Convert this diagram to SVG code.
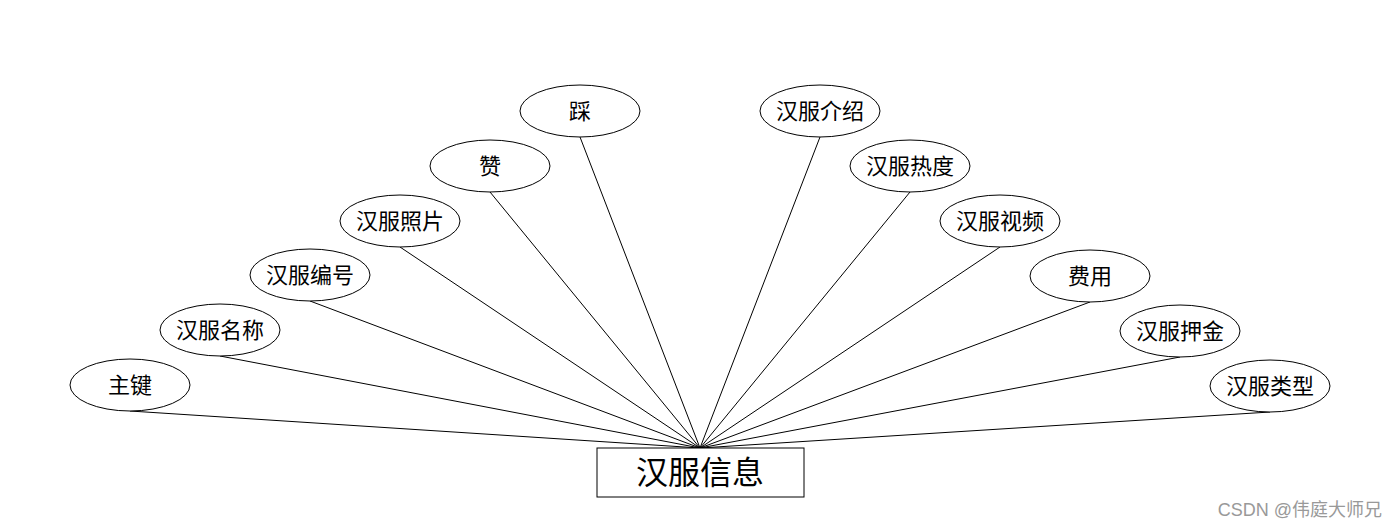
<svg xmlns="http://www.w3.org/2000/svg" width="1400" height="528" viewBox="0 0 1400 528">
<style>
.e{fill:#fff;stroke:#000;stroke-width:1}
.t{font-family:"Noto Sans CJK SC","Liberation Sans",sans-serif;font-size:22px;fill:#000;text-anchor:middle;dominant-baseline:central}
.c line{stroke:#000;stroke-width:1}
</style>
<rect width="1400" height="528" fill="#fff"/>
<g class="c" id="connectors">
<line x1="130" y1="411" x2="700" y2="448"/>
<line x1="220" y1="356" x2="700" y2="448"/>
<line x1="310" y1="301" x2="700" y2="448"/>
<line x1="400" y1="247" x2="700" y2="448"/>
<line x1="490" y1="192" x2="700" y2="448"/>
<line x1="580" y1="137" x2="700" y2="448"/>
<line x1="820" y1="137" x2="700" y2="448"/>
<line x1="910" y1="192" x2="700" y2="448"/>
<line x1="1000" y1="247" x2="700" y2="448"/>
<line x1="1090" y1="302" x2="700" y2="448"/>
<line x1="1180" y1="357" x2="700" y2="448"/>
<line x1="1270" y1="412" x2="700" y2="448"/>
</g>
<g id="n0"><ellipse class="e" cx="130" cy="385" rx="60" ry="26"/><text class="t" x="130" y="383">主键</text></g>
<g id="n1"><ellipse class="e" cx="220" cy="330" rx="60" ry="26"/><text class="t" x="220" y="328">汉服名称</text></g>
<g id="n2"><ellipse class="e" cx="310" cy="275" rx="60" ry="26"/><text class="t" x="310" y="273">汉服编号</text></g>
<g id="n3"><ellipse class="e" cx="400" cy="221" rx="60" ry="26"/><text class="t" x="400" y="219">汉服照片</text></g>
<g id="n4"><ellipse class="e" cx="490" cy="166" rx="60" ry="26"/><text class="t" x="490" y="164">赞</text></g>
<g id="n5"><ellipse class="e" cx="580" cy="111" rx="60" ry="26"/><text class="t" x="580" y="109">踩</text></g>
<g id="n6"><ellipse class="e" cx="820" cy="111" rx="60" ry="26"/><text class="t" x="820" y="109">汉服介绍</text></g>
<g id="n7"><ellipse class="e" cx="910" cy="166" rx="60" ry="26"/><text class="t" x="910" y="164">汉服热度</text></g>
<g id="n8"><ellipse class="e" cx="1000" cy="221" rx="60" ry="26"/><text class="t" x="1000" y="219">汉服视频</text></g>
<g id="n9"><ellipse class="e" cx="1090" cy="276" rx="60" ry="26"/><text class="t" x="1090" y="274">费用</text></g>
<g id="n10"><ellipse class="e" cx="1180" cy="331" rx="60" ry="26"/><text class="t" x="1180" y="329">汉服押金</text></g>
<g id="n11"><ellipse class="e" cx="1270" cy="386" rx="60" ry="26"/><text class="t" x="1270" y="384">汉服类型</text></g>
<g id="main"><rect x="597" y="448" width="207" height="49" fill="#fff" stroke="#000" stroke-width="1"/><text class="t" x="700" y="470" style="font-size:32px">汉服信息</text></g>
<text x="1382" y="516" style="font-family:'Liberation Sans','Noto Sans CJK SC',sans-serif;font-size:18px;fill:#999;text-anchor:end">CSDN @伟庭大师兄</text>
</svg>
